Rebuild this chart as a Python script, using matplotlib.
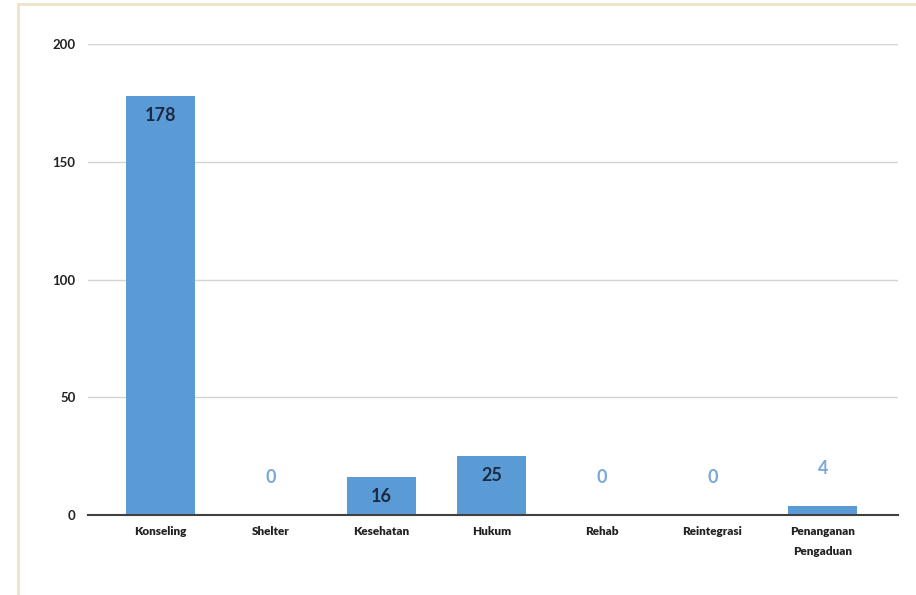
import matplotlib
matplotlib.use("Agg")
import matplotlib.pyplot as plt
from matplotlib.lines import Line2D

categories = ["Konseling", "Shelter", "Kesehatan", "Hukum", "Rehab", "Reintegrasi", "Penanganan\nPengaduan"]
values = [178, 0, 16, 25, 0, 0, 4]
yticks = [0, 50, 100, 150, 200]

bar_color = "#5b9bd5"

fig = plt.figure(figsize=(9.16, 5.95), dpi=100)
ax = fig.add_axes([0.096, 0.1345, 0.884, 0.7915])

x = list(range(len(categories)))
ax.bar(x, values, width=0.63, color=bar_color, zorder=3)

ax.set_xlim(-0.66, 6.68)
ax.set_ylim(0, 200)
ax.set_yticks(yticks)
ax.set_yticklabels([str(v) for v in yticks], fontsize=9.5, color="#222222", fontweight="bold",
                   family="Lato")
ax.set_xticks(x)
ax.set_xticklabels(categories, fontsize=8.5, color="#222222", fontweight="heavy", family="Lato",
                   linespacing=2.0, va="top")
ax.tick_params(axis="y", length=0, pad=9)
ax.tick_params(axis="x", length=0, pad=8)

ax.grid(axis="y", color="#d4d4d4", linewidth=1, zorder=0)
for s in ["top", "right", "left"]:
    ax.spines[s].set_visible(False)
ax.spines["bottom"].set_color("#404040")
ax.spines["bottom"].set_linewidth(1.5)
ax.spines["bottom"].set_zorder(4)

# value labels: inside the bar for large values, above otherwise
for xi, v in zip(x, values):
    if v >= 10:
        ax.annotate(str(v), (xi, v), xytext=(0, -14), textcoords="offset points",
                    ha="center", va="center", fontsize=13, fontweight="bold",
                    color="#1c2a44", family="Lato", zorder=5)
    else:
        ax.annotate(str(v), (xi, v), xytext=(0, 27), textcoords="offset points",
                    ha="center", va="center", fontsize=13, fontweight="bold",
                    color="#7aa8da", family="Lato", zorder=5)

# beige frame around the chart image
fig.add_artist(Line2D([18 / 916, 1.0], [1 - 4 / 595, 1 - 4 / 595], transform=fig.transFigure,
                      color="#efe3c6", linewidth=2))
fig.add_artist(Line2D([18 / 916, 18 / 916], [0, 1 - 4 / 595], transform=fig.transFigure,
                      color="#efe3c6", linewidth=2))

fig.savefig("out.png", dpi=100)
